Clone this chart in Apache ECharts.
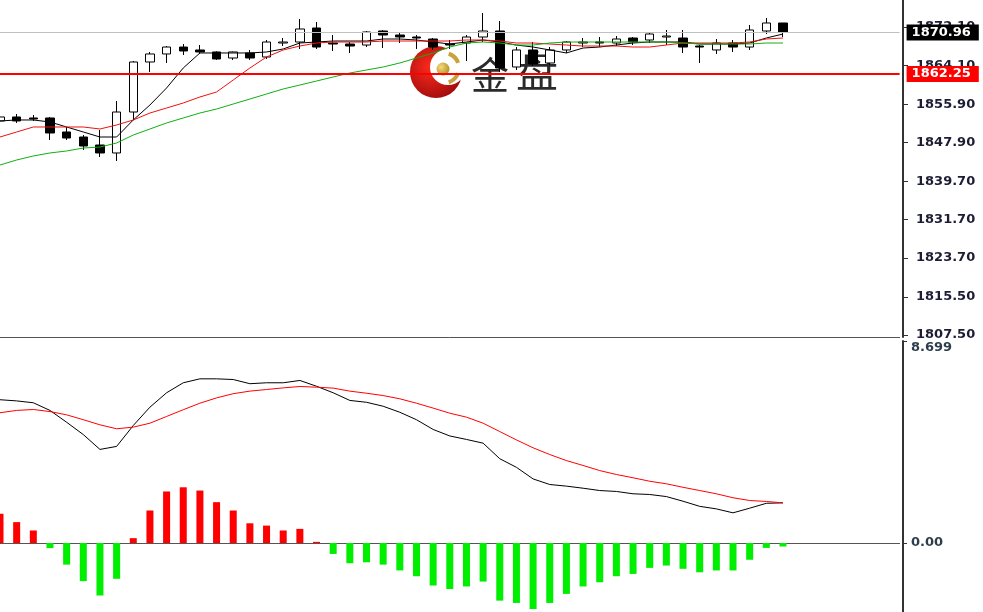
<!DOCTYPE html>
<html><head><meta charset="utf-8">
<script src="https://cdn.jsdelivr.net/npm/echarts@6/dist/echarts.min.js"></script>
<style>html,body{margin:0;padding:0;background:#fff}#c{width:983px;height:612px}</style>
</head><body><div id="c"></div>
<script>
// candles: [open, close, low, high]
const candles = [
[1852.39,1853.23,1852.18,1855.11],[1853.23,1852.39,1851.97,1853.85],[1853.02,1852.81,1852.39,1853.64],
[1853.02,1849.87,1848.40,1853.23],[1850.08,1848.82,1848.40,1851.13],[1849.03,1847.14,1846.31,1849.45],
[1847.35,1845.68,1844.84,1850.50],[1845.68,1854.27,1844.00,1856.58],[1854.27,1864.76,1852.60,1864.97],
[1864.76,1866.44,1862.66,1866.86],[1866.44,1867.90,1864.55,1868.11],[1867.90,1867.07,1866.23,1868.53],
[1867.28,1866.86,1866.44,1868.32],[1866.86,1865.39,1865.20,1867.00],[1865.60,1866.86,1865.18,1866.95],
[1866.65,1865.60,1865.18,1867.28],[1865.81,1868.95,1865.39,1869.37],[1868.74,1868.95,1868.11,1869.79],
[1868.95,1871.68,1867.49,1873.78],[1871.89,1867.90,1867.49,1873.15],[1868.74,1868.53,1867.07,1870.42],
[1868.53,1868.11,1866.65,1868.95],[1868.32,1871.05,1867.90,1871.26],[1871.26,1870.42,1867.69,1871.47],
[1870.42,1870.00,1868.74,1870.84],[1870.00,1869.79,1867.49,1870.42],[1869.58,1867.90,1867.28,1869.79],
[1868.53,1868.32,1867.49,1869.37],[1868.74,1870.00,1864.97,1870.42],[1870.00,1871.26,1868.95,1875.03],
[1871.26,1863.50,1862.66,1873.36],[1863.71,1867.28,1863.08,1867.90],[1867.28,1864.34,1863.92,1868.95],
[1864.55,1867.28,1864.13,1867.90],[1867.28,1868.95,1866.65,1869.16],[1868.74,1868.95,1867.90,1869.79],
[1868.95,1868.74,1867.90,1870.00],[1868.74,1869.58,1868.11,1870.21],[1869.79,1868.95,1868.32,1870.00],
[1869.37,1870.63,1868.74,1871.05],[1870.00,1870.21,1868.32,1871.47],[1869.79,1867.90,1866.65,1871.47],
[1868.11,1867.90,1864.55,1868.32],[1867.28,1868.74,1866.44,1869.58],[1868.74,1867.90,1866.86,1869.37],
[1867.90,1871.47,1867.28,1872.52],[1871.26,1872.94,1870.63,1873.99],[1872.94,1870.96,1870.00,1872.94]
];
const maBlack = [1852.39,1852.60,1852.60,1852.18,1851.13,1850.08,1849.03,1849.03,1852.60,1855.74,
1859.31,1863.50,1866.65,1866.65,1866.65,1866.65,1866.86,1867.49,1868.74,1868.95,1869.16,1869.16,
1869.16,1869.58,1869.58,1869.37,1868.95,1868.53,1868.95,1869.37,1868.95,1868.32,1867.90,1867.28,
1866.65,1867.69,1867.90,1868.32,1868.74,1868.95,1868.95,1868.95,1868.53,1868.53,1868.53,1868.74,
1869.79,1870.63];
const maRed = [1849.03,1850.08,1851.13,1851.13,1851.13,1851.13,1850.71,1851.55,1852.60,1854.06,
1855.11,1856.16,1857.42,1858.47,1860.99,1863.50,1865.81,1867.28,1868.11,1868.74,1868.95,1868.95,
1868.95,1869.16,1869.16,1869.16,1869.16,1869.16,1869.37,1869.37,1869.16,1868.74,1868.74,1868.53,
1868.32,1868.11,1868.11,1868.11,1867.90,1867.90,1868.32,1868.74,1868.74,1868.74,1868.74,1868.95,
1869.58,1869.79];
const maGreen = [1843.16,1844.21,1845.05,1845.68,1846.10,1846.72,1846.93,1847.77,1849.45,1850.71,
1851.97,1853.02,1854.06,1854.90,1855.95,1856.99,1858.05,1859.10,1859.93,1860.77,1861.61,1862.45,
1863.08,1863.71,1864.55,1865.60,1866.65,1867.90,1868.74,1868.95,1868.74,1868.32,1868.32,1868.74,
1868.95,1868.95,1868.95,1868.95,1868.95,1868.95,1868.95,1868.74,1868.53,1868.53,1868.53,1868.53,
1868.74,1868.74];
const macdHist = [1.26,0.90,0.54,-0.22,-0.93,-1.64,-2.26,-1.54,0.21,1.40,2.22,2.40,2.26,1.76,1.40,
0.85,0.75,0.54,0.61,0.05,-0.47,-0.87,-0.83,-0.93,-1.18,-1.43,-1.83,-1.98,-1.87,-1.66,-2.48,-2.58,
-2.84,-2.58,-2.19,-1.87,-1.69,-1.43,-1.33,-1.07,-0.97,-1.11,-1.26,-1.18,-1.18,-0.72,-0.21,-0.15];
const macdDif = [6.17,6.12,6.04,5.71,5.20,4.67,4.03,4.16,5.06,5.85,6.47,6.90,7.07,7.07,7.04,6.86,
6.90,6.90,7.00,6.75,6.47,6.14,6.06,5.89,5.63,5.31,4.89,4.61,4.46,4.30,3.63,3.26,2.76,2.52,2.45,
2.36,2.26,2.22,2.12,2.09,2.00,1.80,1.58,1.47,1.30,1.50,1.71,1.73];
const macdDea = [5.61,5.71,5.75,5.66,5.52,5.31,5.09,4.92,4.99,5.16,5.45,5.74,6.02,6.25,6.43,6.54,
6.61,6.68,6.74,6.71,6.67,6.54,6.45,6.35,6.21,6.02,5.81,5.59,5.42,5.16,4.80,4.44,4.10,3.81,3.55,
3.34,3.12,2.95,2.81,2.66,2.55,2.40,2.26,2.12,1.95,1.83,1.79,1.73];
const priceTickLabels = ['1807.50','1815.50','1823.70','1831.70','1839.70','1847.90','1855.90','1864.10','1872.10'];
const macdTickLabels = ['0.00','8.699'];
const bidPrice = 1870.96;
const levelPrice = 1862.25;
const priceMin = 1807.09, priceMax = 1877.76;
const macdMin = -2.97, macdMax = 8.699;
const emptySlots = 7;

const priceTicks = priceTickLabels.map(Number);
const macdTicks = macdTickLabels.map(Number);
const cats = candles.map((_, i) => 'b' + i);
for (let k = 0; k < emptySlots; k++) cats.push('e' + k);

const chart = echarts.init(document.getElementById('c'), null, {renderer: 'canvas'});
const gridLeft = 0, gridRight = 83.4, axisOffset = 3.4;
const labelFont = {fontFamily: 'DejaVu Sans', fontSize: 13, fontWeight: 'bold'};

chart.setOption({
  animation: false,
  backgroundColor: '#ffffff',
  grid: [
    {left: gridLeft, right: gridRight, top: 0, height: 337},
    {left: gridLeft, right: gridRight, top: 341, bottom: 0}
  ],
  xAxis: [
    {type: 'category', gridIndex: 0, data: cats, boundaryGap: false,
     axisLine: {show: true, lineStyle: {color: '#555', width: 1}}, axisTick: {show: false}, axisLabel: {show: false}, splitLine: {show: false}},
    {type: 'category', gridIndex: 1, data: cats, boundaryGap: false, position: 'top',
     axisLine: {show: true, lineStyle: {color: '#555', width: 1}}, axisTick: {show: false}, axisLabel: {show: false}, splitLine: {show: false}}
  ],
  yAxis: [
    {type: 'value', gridIndex: 0, position: 'right', offset: axisOffset, min: priceMin, max: priceMax,
     axisLine: {show: true, lineStyle: {color: '#333', width: 2}},
     axisTick: {show: true, length: 5, customValues: priceTicks, lineStyle: {color: '#333'}},
     axisLabel: Object.assign({customValues: priceTicks, margin: 13, color: '#1c1c34',
       formatter: v => { let best = priceTickLabels[0], d = 1e9; priceTickLabels.forEach(s => { const dd = Math.abs(Number(s) - v); if (dd < d) { d = dd; best = s; } }); return best; }}, labelFont),
     splitLine: {show: false}},
    {type: 'value', gridIndex: 1, position: 'right', offset: axisOffset, min: macdMin, max: macdMax,
     axisLine: {show: true, lineStyle: {color: '#333', width: 2}},
     axisTick: {show: true, length: 4, customValues: macdTicks, lineStyle: {color: '#333'}},
     axisLabel: Object.assign({customValues: macdTicks, margin: 8, color: '#2c3e4c',
       verticalAlignMaxLabel: 'top',
       formatter: v => Math.abs(v) < 1e-6 ? macdTickLabels[0] : macdTickLabels[1]}, labelFont),
     splitLine: {show: false}}
  ],
  graphic: [
    {type: 'group', z: 0, silent: true, children: [
      {type: 'circle', shape: {cx: 436, cy: 72, r: 26},
       style: {fill: new echarts.graphic.RadialGradient(0.4, 0.4, 0.7, [{offset: 0, color: '#ff2a1e'}, {offset: 1, color: '#9a0a0a'}])}},
      {type: 'circle', shape: {cx: 448, cy: 67, r: 18}, style: {fill: '#ffffff'}},
      {type: 'circle', shape: {cx: 443, cy: 69, r: 6.5},
       style: {fill: new echarts.graphic.RadialGradient(0.35, 0.35, 0.8, [{offset: 0, color: '#f4dc7a'}, {offset: 1, color: '#a8831e'}])}},
      {type: 'arc', shape: {cx: 444, cy: 68, r: 15, startAngle: -1.25, endAngle: -0.35}, style: {stroke: '#c9a23a', lineWidth: 4, fill: null}},
      {type: 'arc', shape: {cx: 444, cy: 68, r: 15, startAngle: 0.35, endAngle: 1.25}, style: {stroke: '#c9a23a', lineWidth: 4, fill: null}},
      {type: 'text', x: 490, y: 75, style: {text: '金', fontFamily: 'Noto Sans CJK SC', fontSize: 38, fill: '#2a2a2a', align: 'center', verticalAlign: 'middle'}},
      {type: 'text', x: 537, y: 71, style: {text: '盘', fontFamily: 'Noto Sans CJK SC', fontSize: 42, fill: '#2a2a2a', align: 'center', verticalAlign: 'middle'}}
    ]}
  ],
  series: [
    {type: 'candlestick', name: 'Price', xAxisIndex: 0, yAxisIndex: 0, data: candles, barWidth: 9,
     itemStyle: {color: '#ffffff', color0: '#000000', borderColor: '#000000', borderColor0: '#000000', borderWidth: 1},
     markLine: {silent: true, symbol: ['none', 'none'], animation: false,
       data: [
         {yAxis: bidPrice, lineStyle: {color: '#c0c0c0', width: 1, type: 'solid'},
          label: {show: true, position: 'end', distance: 7, formatter: p => p.value.toFixed(2), backgroundColor: '#000', color: '#fff',
                  padding: [2, 8, 1, 5], fontFamily: 'DejaVu Sans', fontSize: 13, fontWeight: 'bold'}},
         {yAxis: levelPrice, lineStyle: {color: '#ff0000', width: 2, type: 'solid'},
          label: {show: true, position: 'end', distance: 7, formatter: p => p.value.toFixed(2), backgroundColor: '#ff0000', color: '#fff',
                  padding: [2, 8, 1, 5], fontFamily: 'DejaVu Sans', fontSize: 13, fontWeight: 'bold'}}
       ]}},
    {type: 'line', name: 'MA1', xAxisIndex: 0, yAxisIndex: 0, data: maBlack, symbol: 'none', lineStyle: {color: '#000', width: 1}, z: 3},
    {type: 'line', name: 'MA2', xAxisIndex: 0, yAxisIndex: 0, data: maRed, symbol: 'none', lineStyle: {color: '#f01010', width: 1}, z: 3},
    {type: 'line', name: 'MA3', xAxisIndex: 0, yAxisIndex: 0, data: maGreen, symbol: 'none', lineStyle: {color: '#10b010', width: 1}, z: 3},
    {type: 'bar', name: 'MACD', xAxisIndex: 1, yAxisIndex: 1, data: macdHist, barWidth: 7,
     itemStyle: {color: p => p.value >= 0 ? '#ff0000' : '#00ee00'}},
    {type: 'line', name: 'DIF', xAxisIndex: 1, yAxisIndex: 1, data: macdDif, symbol: 'none', lineStyle: {color: '#000', width: 1}},
    {type: 'line', name: 'DEA', xAxisIndex: 1, yAxisIndex: 1, data: macdDea, symbol: 'none', lineStyle: {color: '#ff0000', width: 1}}
  ]
});
</script></body></html>
